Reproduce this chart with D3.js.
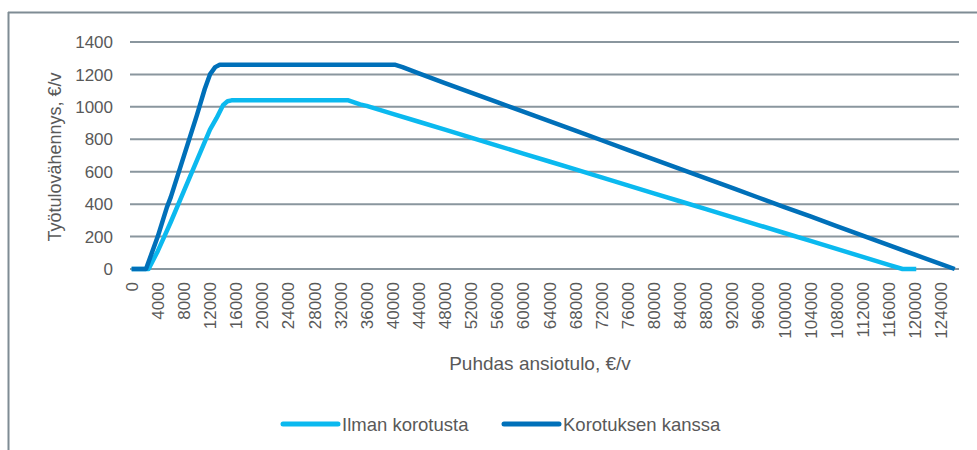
<!DOCTYPE html>
<meta charset="utf-8">
<script src="https://d3js.org/d3.v7.min.js"></script>
<style>
  body { margin: 0; background: #fff; }
  text { font-family: Arial, "Liberation Sans", sans-serif; fill: #595959; }
</style>
<svg id="vis"></svg>

<script>
    // Income (€/v) and credit (€/v)
    var incomeIlman = [0, 2600, 4000, 5000, 6000, 8000, 10000, 12000, 13000, 14000, 14700, 15300, 20000, 24000, 28000, 33200,
        35000, 36000, 40000, 44000, 48000, 52000, 56000, 60000, 64000, 68000, 72000, 76000, 80000, 84000,
        88000, 92000, 96000, 100000, 104000, 108000, 112000, 116000, 118100, 120200];
    var valuesIlman = [0, 0, 110, 200, 290, 480, 670, 860, 930, 1010, 1035, 1040, 1040, 1040, 1040, 1040,
        1015, 1006, 957, 908, 859, 810, 761, 712, 663, 614, 565, 516, 467, 418,
        369, 320, 271, 222, 173, 124, 75, 26, 0, 0];

    var incomeKanssa = [0, 2200, 4000, 5400, 6000, 8000, 10000, 11200, 12000, 12800, 13500, 20000, 28000, 36000, 40300,
        41500, 44000, 48000, 52000, 56000, 60000, 64000, 68000, 72000, 76000, 80000, 84000, 88000,
        92000, 96000, 100000, 104000, 108000, 112000, 116000, 120000, 124000, 126100];
    var valuesKanssa = [0, 0, 200, 380, 443, 696, 949, 1110, 1200, 1245, 1260, 1260, 1260, 1260, 1260,
        1245, 1206, 1147, 1088, 1029, 970, 912, 853, 794, 735, 676, 618, 559,
        500, 441, 382, 324, 265, 206, 147, 88, 30, 0];

    var seriesNames = ["Ilman korotusta", "Korotuksen kanssa"];
    var seriesColors = ["#0bb9ef", "#0070b9"];

    var xTicks = [0, 4000, 8000, 12000, 16000, 20000, 24000, 28000, 32000, 36000, 40000, 44000, 48000,
        52000, 56000, 60000, 64000, 68000, 72000, 76000, 80000, 84000, 88000, 92000, 96000,
        100000, 104000, 108000, 112000, 116000, 120000, 124000];
    var yTicks = [0, 200, 400, 600, 800, 1000, 1200, 1400];

    var width = 977, height = 450;

    var svg = d3.select("#vis")
        .attr("width", width)
        .attr("height", height);

    // frame (only top and left edges are visible)
    svg.append("line")
        .attr("x1", 8).attr("x2", width).attr("y1", 12.5).attr("y2", 12.5)
        .attr("stroke", "#7f8c94").attr("stroke-width", 2);
    svg.append("line")
        .attr("x1", 8.5).attr("x2", 8.5).attr("y1", 12).attr("y2", height)
        .attr("stroke", "#7f8c94").attr("stroke-width", 2);

    // scales
    var xScale = d3.scaleLinear()
        .domain([-250, 126750])
        .range([130, 959]);

    var yScale = d3.scaleLinear()
        .domain([0, 1400])
        .range([269, 42]);

    // gridlines
    svg.append("g")
        .selectAll("line")
        .data(yTicks)
        .enter()
        .append("line")
            .attr("x1", xScale.range()[0])
            .attr("x2", xScale.range()[1])
            .attr("y1", function(d) { return yScale(d); })
            .attr("y2", function(d) { return yScale(d); })
            .attr("stroke", "#8a969e")
            .attr("stroke-width", 2);

    // y tick labels
    svg.append("g")
        .selectAll("text")
        .data(yTicks)
        .enter()
        .append("text")
            .attr("x", 113)
            .attr("y", function(d) { return yScale(d); })
            .attr("dy", "0.36em")
            .attr("text-anchor", "end")
            .style("font-size", "17px")
            .text(function(d) { return d; });

    // x tick labels, rotated
    svg.append("g")
        .selectAll("text")
        .data(xTicks)
        .enter()
        .append("text")
            .attr("transform", function(d) { return "translate(" + xScale(d) + ",282) rotate(-90)"; })
            .attr("dy", "0.36em")
            .attr("text-anchor", "end")
            .style("font-size", "17px")
            .text(function(d) { return d; });

    // axis titles
    svg.append("text")
        .attr("transform", "translate(61,157) rotate(-90)")
        .attr("text-anchor", "middle")
        .style("font-size", "18px")
        .text("Työtulovähennys, €/v");

    svg.append("text")
        .attr("x", 540)
        .attr("y", 370)
        .attr("text-anchor", "middle")
        .style("font-size", "19px")
        .text("Puhdas ansiotulo, €/v");

    // the two lines
    var line = d3.line()
        .x(function(d) { return xScale(d[0]); })
        .y(function(d) { return yScale(d[1]); });

    var seriesData = [
        d3.zip(incomeIlman, valuesIlman),
        d3.zip(incomeKanssa, valuesKanssa)
    ];

    svg.append("g")
        .selectAll("path")
        .data(seriesData)
        .enter()
        .append("path")
            .attr("d", line)
            .attr("fill", "none")
            .attr("stroke", function(d, i) { return seriesColors[i]; })
            .attr("stroke-width", 4.5)
            .attr("stroke-linejoin", "round");

    // legend
    var legendX = [283, 504];
    var legend = svg.append("g")
        .selectAll("g")
        .data(seriesNames)
        .enter()
        .append("g")
            .attr("transform", function(d, i) { return "translate(" + legendX[i] + ",424)"; });

    legend.append("line")
        .attr("x1", 0).attr("x2", 55)
        .attr("stroke", function(d, i) { return seriesColors[i]; })
        .attr("stroke-width", 5)
        .attr("stroke-linecap", "round");

    legend.append("text")
        .attr("x", 59)
        .attr("dy", "0.36em")
        .style("font-size", "18.5px")
        .text(function(d) { return d; });
</script>
